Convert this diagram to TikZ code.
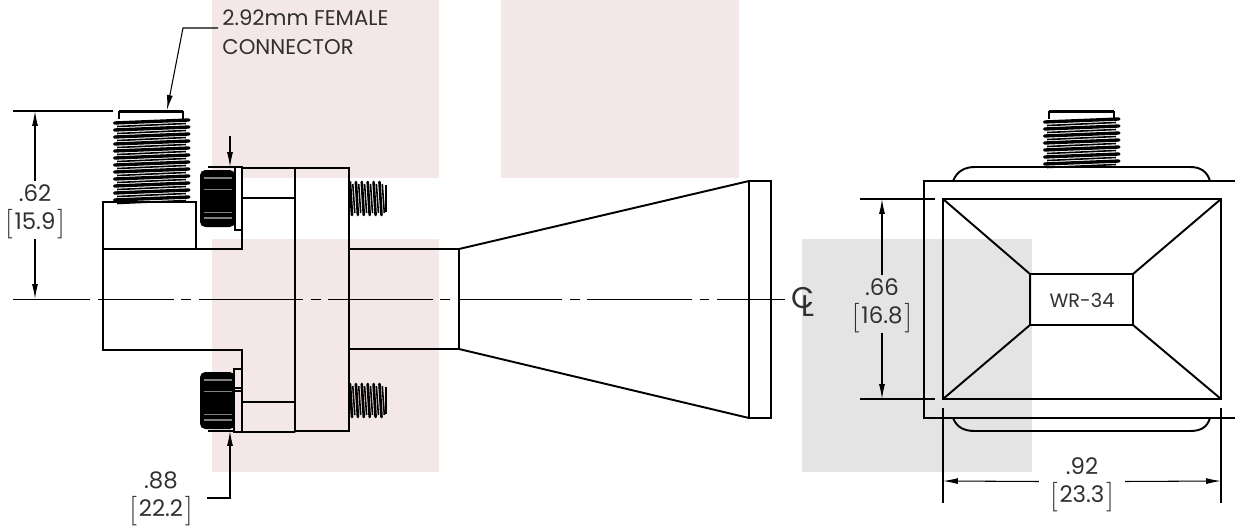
\documentclass[tikz,border=0pt]{standalone}
\usepackage{fontspec}
\setmainfont{Poppins}
\usetikzlibrary{arrows.meta}
\definecolor{pinkpatch}{HTML}{F3E7E7}
\definecolor{greypatch}{HTML}{E4E4E4}
\definecolor{labelgrey}{HTML}{303030}
\newcommand{\brk}[1]{\raisebox{-1pt}{\scalebox{1.4}{$\big[$}}\kern1pt#1\kern1pt\raisebox{-1pt}{\scalebox{1.4}{$\big]$}}}
\tikzset{
    part/.style = {line width = 1.1pt},
    thin part/.style = {line width = 0.8pt},
    dimline/.style = {line width = 0.6pt},
    dimarrow/.style = {line width = 0.6pt, -{Latex[length=8.5pt, width=3.4pt]}},
    label/.style = {font = \fontsize{12.1}{16.5}\selectfont, text = labelgrey, align = center, inner sep = 0pt},
    dimlabel/.style = {label, font = \fontsize{13}{16}\selectfont, inner xsep = 6pt},
    hthread/.pic = {
        \foreach \i in {1,...,#1}{
            \draw[line width = 1.9pt, line cap = round] (1.5,{(\i-1)*7}) -- (76,{(\i-1)*7-3});
            \draw[line width = 0.9pt] (4,{(\i-1)*7+3.5}) -- (73,{(\i-1)*7+0.5});
        }
    },
    bolt/.pic = {
        \foreach \i in {0,...,5}{
            \draw[line width = 1.5pt, line cap = round] ({\i*5.9+1},1) -- ({\i*5.9+3},34);
            \draw[line width = 0.9pt] ({\i*5.9+3.8},3) -- ({\i*5.9+5.8},32);
        }
        \draw[line width = 1pt] (37,4) -- (37,31);
    },
    knob/.pic = {
        \fill[black, rounded corners = 3pt] (0,0) -- (35,0) -- (35,57) -- (0,57) -- cycle;
        \foreach \yb/\wb in {8/1.2,19/0.4,42/0.4,48/1.2}{
            \draw[gray, line width = \wb pt] (4,\yb) -- (32,\yb);
        }
    }
}
\begin{document}
\begin{tikzpicture}[x = 0.02cm, y = -0.02cm]
    \useasboundingbox (0,0) rectangle (1235,525);
    % background patches
    \fill[pinkpatch] (212,0) rectangle (439,178);
    \fill[pinkpatch] (501,0) rectangle (739,178);
    \fill[pinkpatch] (212,239) rectangle (439,472);
    \fill[greypatch] (802,239) rectangle (1032,472);
    % side view
    \pic at (200,170) {knob};
    \pic at (200,372) {knob};
    \draw[part] (103,249) -- (103,350) -- (242,350) -- (242,432) -- (295,432)
        (103,202) rectangle (196,249)
        (103,249) -- (242,249) -- (242,168) -- (349,168) -- (349,431) -- (295,431)
        (295,168) -- (295,432)
        (242,198) -- (295,198)
        (242,402) -- (295,402)
        (349,249) -- (459,249) -- (459,349) -- (349,349)
        (459,249) -- (749,181) (459,349) -- (749,418)
        (749,181) rectangle (771,418);
    \draw[thin part, fill = white] (235,167) rectangle (242,230);
    \draw[thin part, fill = pinkpatch] (234,369) rectangle (242,432);
    \draw[thin part] (234,388) -- (242,388) (234,391) -- (242,391);
    \pic at (349,181) {bolt};
    \pic at (349,383) {bolt};
    % connector on the side view
    \draw[part] (119,119) -- (119,112) -- (183,112) -- (183,119);
    \draw[line width = 1.5pt] (119,111) -- (183,111);
    \pic at (113,123) {hthread=12};
    % centre line
    \foreach \xa/\xb in {13/90,98/174,181/191,199/303,311/321,328/433,440/450,458/562,570/580,587/692,700/709,717/785}{
        \draw[dimline] (\xa,299.5) -- (\xb,299.5);
    }
    \node[label, font = \fontsize{17}{17}\selectfont] (centre) at (803,302) {C\kern-0.42em\raisebox{-4.5pt}{L}};
    % end view
    \draw[part] (1235,181) -- (924,181) -- (924,418) -- (1235,418)
        (943,199) rectangle (1221,399)
        (1030,274) rectangle (1133,325)
        (943,199) -- (1030,274) (1221,199) -- (1133,274)
        (943,399) -- (1030,325) (1221,399) -- (1133,325)
        (953,181) .. controls (957,171) and (965,167) .. (975,167) -- (1190,167) .. controls (1200,167) and (1207,171) .. (1210,181)
        (953,418) .. controls (957,428) and (965,431) .. (975,431) -- (1190,431) .. controls (1200,431) and (1207,428) .. (1210,418);
    \draw[part] (1049,119) -- (1049,112) -- (1114,112) -- (1114,119);
    \draw[line width = 1.5pt] (1049,111) -- (1114,111);
    \pic at (1043,122) {hthread=7};
    \node[label, font = \fontsize{11}{16}\selectfont] (wr) at (1082,300) {WR-34};
    % callout
    \node[label, anchor = north west, align = left] (conn) at (222,9) {2.92mm FEMALE\\CONNECTOR};
    \coordinate (connTip) at (167,110);
    \coordinate (connBend) at (183,28);
    \draw[dimarrow] (218,28) -- (connBend) -- (connTip);
    % dimension .62
    \node[dimlabel] (dimSide) at (35,212) {.62\\\brk{15.9}};
    \coordinate (dimSideTop) at (35,111);
    \coordinate (dimSideEnd) at (35,299);
    \draw[dimline] (13,111) -- (113,111);
    \draw[dimarrow] ([yshift=2pt]dimSide.north) -- (dimSideTop);
    \draw[dimarrow] (dimSide.south) -- (dimSideEnd);
    % dimension .88
    \node[dimlabel] (dimFlange) at (161,499) {.88\\\brk{22.2}};
    \coordinate (dimFlangeUp) at (230,167);
    \coordinate (dimFlangeDn) at (230,431);
    \coordinate (dimFlangeElbow) at (230,498);
    \draw[dimline] (208,167) -- (235,167) (208,431) -- (234,431);
    \draw[dimarrow] (230,136) -- (dimFlangeUp);
    \draw[dimarrow] (207,498) -- (dimFlangeElbow) -- (dimFlangeDn);
    % dimension .66
    \node[dimlabel] (dimHeight) at (882,306) {.66\\\brk{16.8}};
    \coordinate (dimHeightTop) at (882,199);
    \coordinate (dimHeightBot) at (882,399);
    \draw[dimline] (860,199) -- (935,199) (860,399) -- (935,399);
    \draw[dimarrow] ([yshift=2pt]dimHeight.north) -- (dimHeightTop);
    \draw[dimarrow] (dimHeight.south) -- (dimHeightBot);
    % dimension .92
    \node[dimlabel] (dimWidth) at (1082,485) {.92\\\brk{23.3}};
    \coordinate (dimWidthL) at (943,481);
    \coordinate (dimWidthR) at (1221,481);
    \draw[dimline] (943,408) -- (943,503) (1221,408) -- (1221,503);
    \draw[dimarrow] ([yshift=2pt]dimWidth.west) -- (dimWidthL);
    \draw[dimarrow] ([yshift=2pt]dimWidth.east) -- (dimWidthR);
\end{tikzpicture}
\end{document}
